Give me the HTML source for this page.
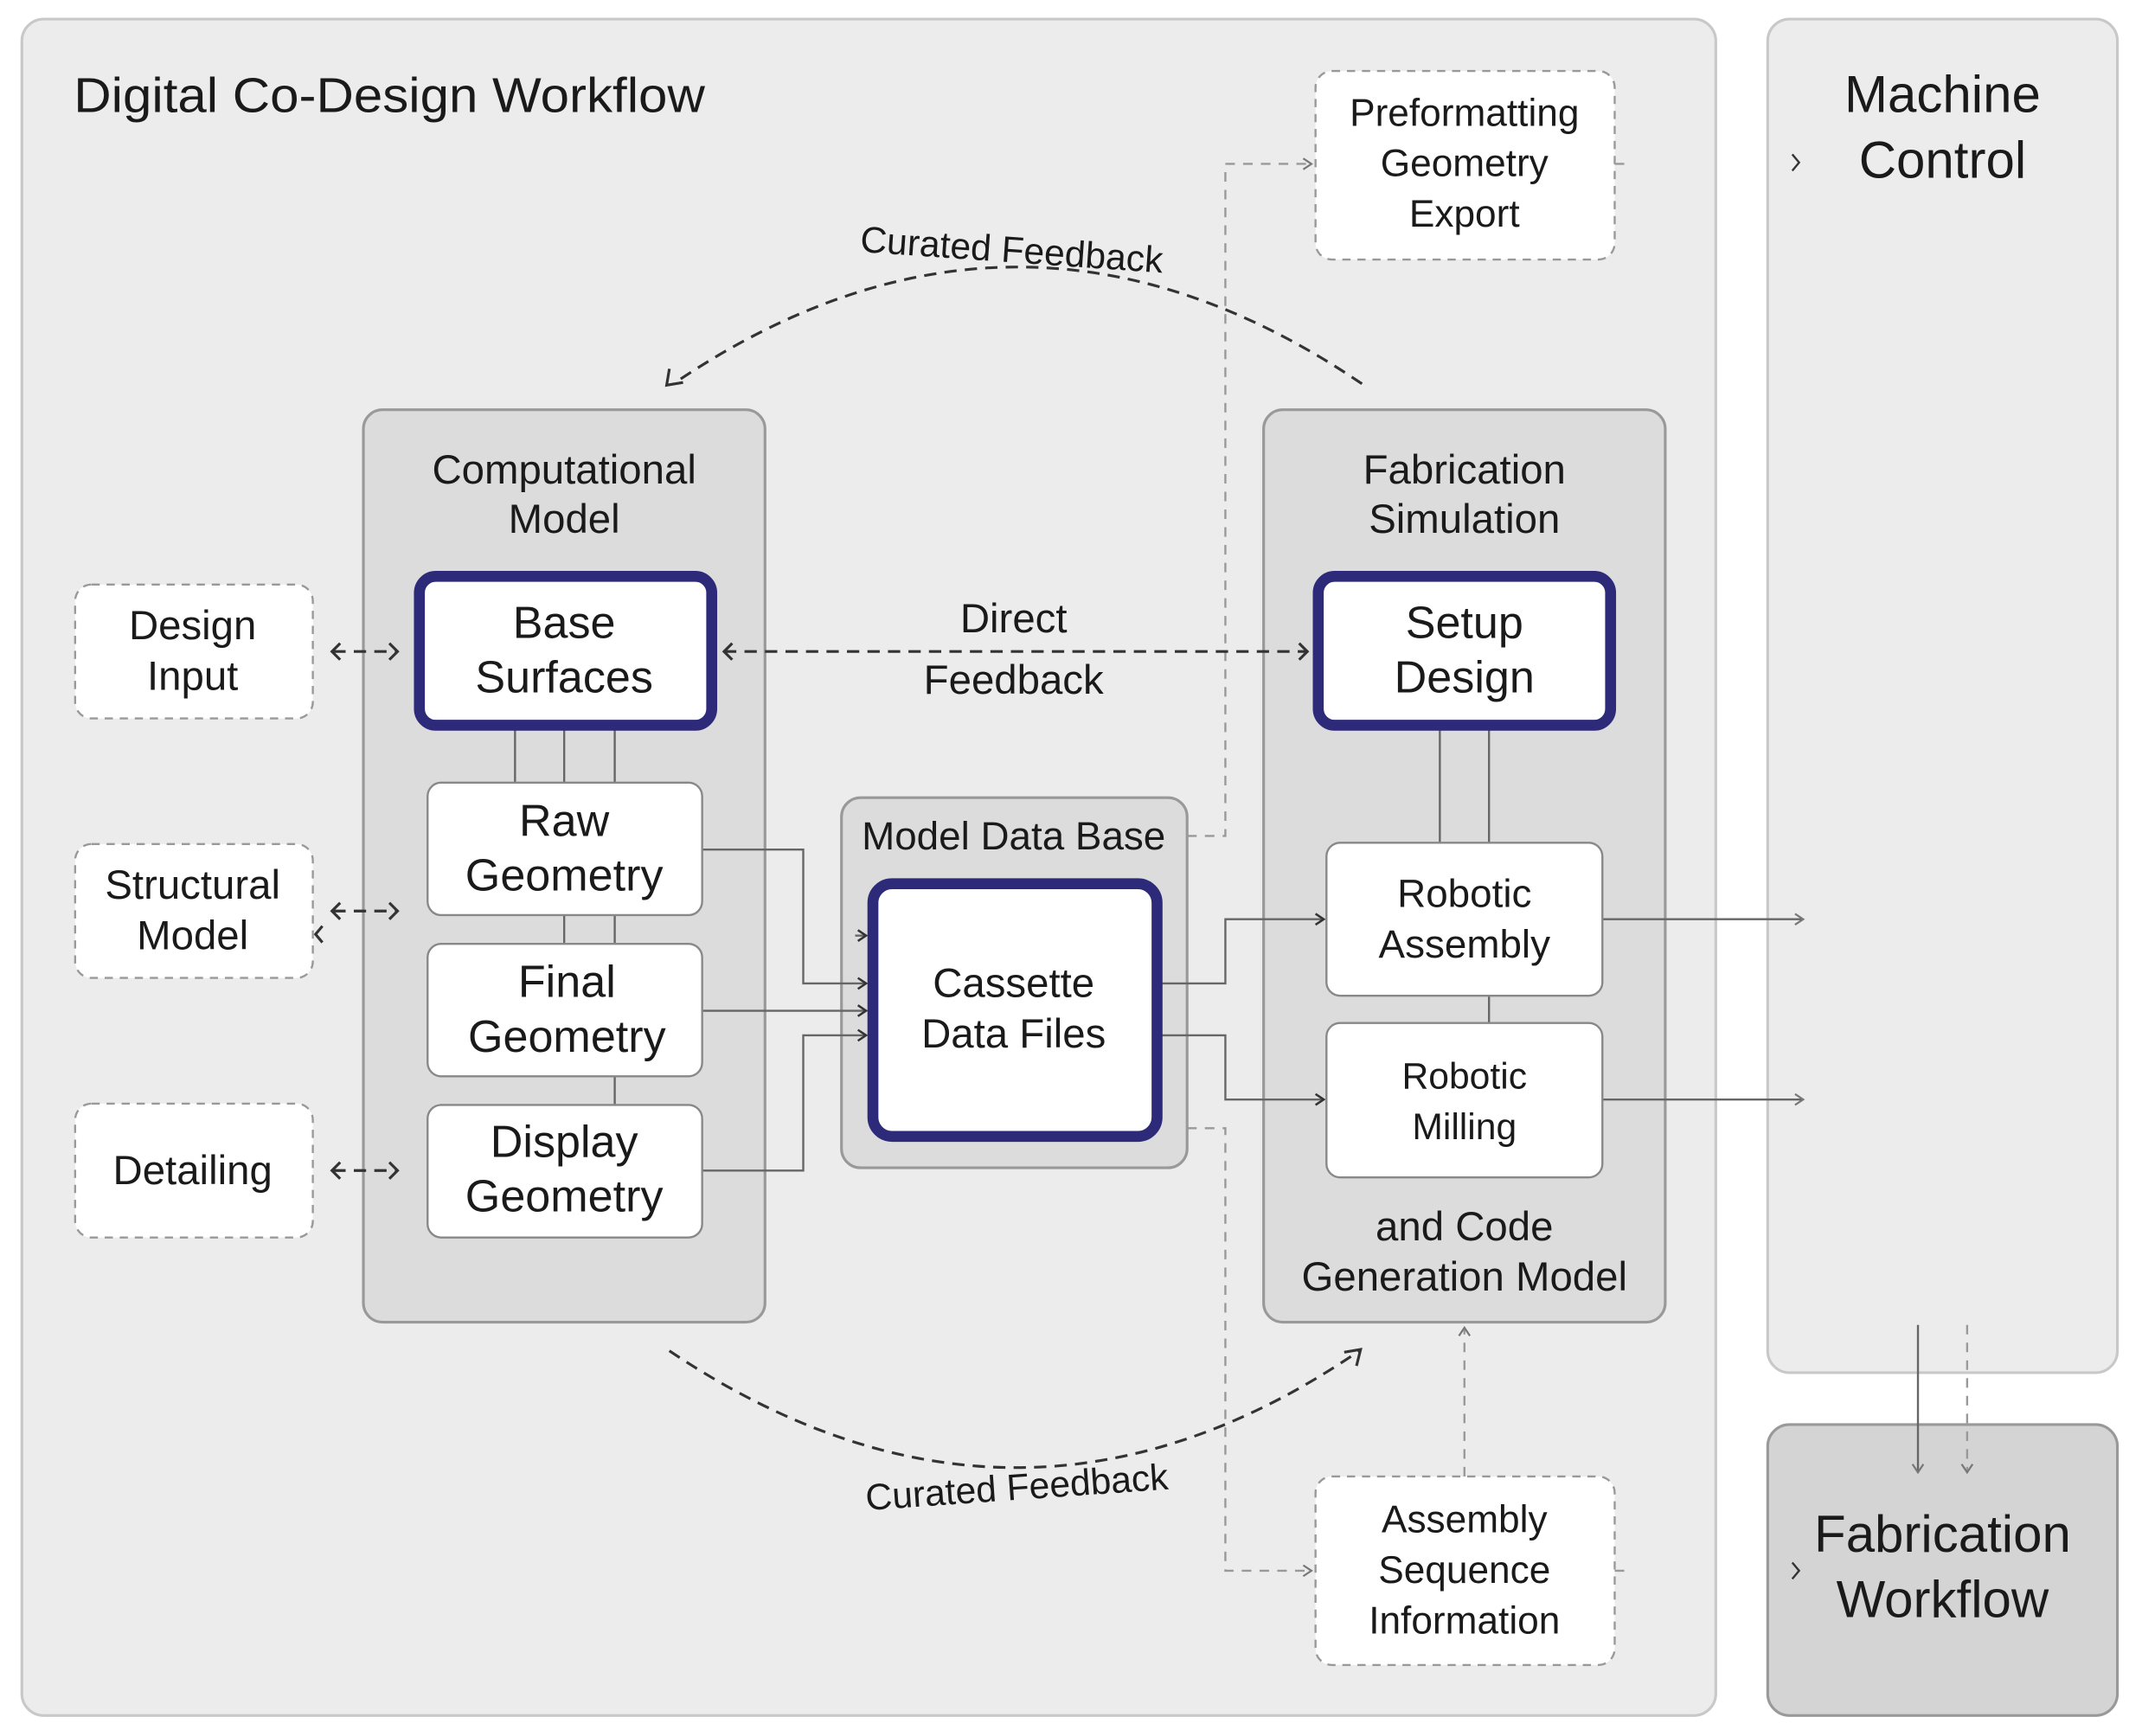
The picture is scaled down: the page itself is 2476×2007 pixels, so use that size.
<!DOCTYPE html>
<html><head><meta charset="utf-8"><style>
html,body{margin:0;padding:0;background:#fff}
svg{display:block}
text{font-family:"Liberation Sans",sans-serif;fill:#1a1a1a;text-anchor:middle}
</style></head><body>
<svg width="2476" height="2007" viewBox="0 0 1568 1271" xmlns="http://www.w3.org/2000/svg">
<defs>
<marker id="a" markerWidth="10" markerHeight="10" refX="8" refY="5" orient="auto" markerUnits="userSpaceOnUse"><path d="M2,1 L8,5 L2,9" fill="none" stroke="#333" stroke-width="1.6"/></marker>
<marker id="g" markerWidth="10" markerHeight="10" refX="8" refY="5" orient="auto" markerUnits="userSpaceOnUse"><path d="M2,1 L8,5 L2,9" fill="none" stroke="#777" stroke-width="1.4"/></marker>
</defs>
<rect width="1568" height="1271" fill="#fff"/>
<rect x="16" y="14" width="1240" height="1242" rx="16" fill="#ececec" stroke="#c8c8c8" stroke-width="2"/>
<rect x="1294" y="14" width="256" height="991" rx="16" fill="#ececec" stroke="#c8c8c8" stroke-width="2"/>
<rect x="1294" y="1043" width="256" height="213" rx="16" fill="#d4d4d4" stroke="#999" stroke-width="2"/>
<text x="54" y="82" font-size="36" textLength="462" lengthAdjust="spacingAndGlyphs" style="text-anchor:start">Digital Co-Design Workflow</text>
<text x="1422" y="82" font-size="38">Machine</text>
<text x="1422" y="130" font-size="38">Control</text>
<text x="1422" y="1136" font-size="38">Fabrication</text>
<text x="1422" y="1184" font-size="38">Workflow</text>
<path d="M1312,113 l5,6 l-5,6 M1312,1144 l5,6 l-5,6" fill="none" stroke="#333" stroke-width="1.5"/>

<rect x="266" y="300" width="294" height="668" rx="14" fill="#dcdcdc" stroke="#999" stroke-width="2"/>
<rect x="925" y="300" width="294" height="668" rx="14" fill="#dcdcdc" stroke="#999" stroke-width="2"/>
<rect x="616" y="584" width="253" height="271" rx="14" fill="#dcdcdc" stroke="#999" stroke-width="2"/>
<text x="413" y="354" font-size="30">Computational</text>
<text x="413" y="390" font-size="30">Model</text>
<text x="1072" y="354" font-size="30">Fabrication</text>
<text x="1072" y="390" font-size="30">Simulation</text>
<text x="742" y="622" font-size="29">Model Data Base</text>
<text x="1072" y="908" font-size="30">and Code</text>
<text x="1072" y="945" font-size="30">Generation Model</text>

<g fill="#fff" stroke="#999" stroke-width="1.5" stroke-dasharray="6,5">
<rect x="55" y="428" width="174" height="98" rx="12"/>
<rect x="55" y="618" width="174" height="98" rx="12"/>
<rect x="55" y="808" width="174" height="98" rx="12"/>
<rect x="963" y="52" width="219" height="138" rx="12"/>
<rect x="963" y="1081" width="219" height="138" rx="12"/>
</g>
<text x="141" y="468" font-size="30">Design</text><text x="141" y="505" font-size="30">Input</text>
<text x="141" y="658" font-size="30">Structural</text><text x="141" y="695" font-size="30">Model</text>
<text x="141" y="867" font-size="30">Detailing</text>
<text x="1072" y="92" font-size="28">Preformatting</text><text x="1072" y="129" font-size="28">Geometry</text><text x="1072" y="166" font-size="28">Export</text>
<text x="1072" y="1122" font-size="28">Assembly</text><text x="1072" y="1159" font-size="28">Sequence</text><text x="1072" y="1196" font-size="28">Information</text>

<g fill="none" stroke="#666" stroke-width="1.5">
<path d="M377,533 V573 M413,533 V573 M450,533 V573"/>
<path d="M413,670 V691 M450,670 V691 M450,788 V809"/>
<path d="M1054,533 V617 M1090,533 V617 M1090,729 V749"/>
<path d="M514,622 H588 V720 H634" marker-end="url(#a)"/>
<path d="M514,740 H634" marker-end="url(#a)"/>
<path d="M514,857 H588 V758 H634" marker-end="url(#a)"/>
<path d="M626,685 H634" marker-end="url(#a)"/>
<path d="M849,720 H897 V673 H969" marker-end="url(#a)"/>
<path d="M849,758 H897 V805 H969" marker-end="url(#a)"/>
<path d="M1173,673 H1320" marker-end="url(#g)"/>
<path d="M1173,805 H1320" marker-end="url(#g)"/>
<path d="M1404,970 V1078" marker-end="url(#g)"/>
</g>
<g fill="none" stroke="#999" stroke-width="1.5" stroke-dasharray="7,6">
<path d="M869,612 H897 V120 H960" marker-end="url(#g)"/>
<path d="M869,826 H897 V1150 H960" marker-end="url(#g)"/>
<path d="M1182,120 H1190 M1182,1150 H1190"/>
<path d="M1072,1081 V972" marker-end="url(#g)"/>
<path d="M1440,970 V1078" marker-end="url(#g)"/>
</g>

<g fill="#fff">
<rect x="307" y="422" width="214" height="109" rx="12" stroke="#2e2a7a" stroke-width="8"/>
<rect x="965" y="422" width="214" height="109" rx="12" stroke="#2e2a7a" stroke-width="8"/>
<rect x="639" y="647" width="208" height="185" rx="14" stroke="#2e2a7a" stroke-width="8"/>
<g stroke="#888" stroke-width="1.5">
<rect x="313" y="573" width="201" height="97" rx="10"/>
<rect x="313" y="691" width="201" height="97" rx="10"/>
<rect x="313" y="809" width="201" height="97" rx="10"/>
<rect x="971" y="617" width="202" height="112" rx="10"/>
<rect x="971" y="749" width="202" height="113" rx="10"/>
</g></g>
<text x="413" y="467" font-size="33">Base</text><text x="413" y="507" font-size="33">Surfaces</text>
<text x="1072" y="467" font-size="33">Setup</text><text x="1072" y="507" font-size="33">Design</text>
<text x="742" y="730" font-size="30">Cassette</text><text x="742" y="767" font-size="30">Data Files</text>
<text x="413" y="612" font-size="33">Raw</text><text x="413" y="652" font-size="33">Geometry</text>
<text x="415" y="730" font-size="33">Final</text><text x="415" y="770" font-size="33">Geometry</text>
<text x="413" y="847" font-size="33">Display</text><text x="413" y="887" font-size="33">Geometry</text>
<text x="1072" y="664" font-size="29">Robotic</text><text x="1072" y="701" font-size="29">Assembly</text>
<text x="1072" y="797" font-size="27">Robotic</text><text x="1072" y="834" font-size="27">Milling</text>

<g fill="none" stroke="#333" stroke-width="2" stroke-dasharray="9,6">
<path d="M244,477 H290 M244,667 H290 M244,857 H290"/>
<path d="M530,477 H956"/>
<path d="M997,281 Q745,110 493,281"/>
<path d="M490,989 Q745,1160 995,989"/>
</g>
<g fill="none" stroke="#333" stroke-width="2">
<path d="M249,471 l-6,6 l6,6 M285,471 l6,6 l-6,6"/>
<path d="M249,661 l-6,6 l6,6 M285,661 l6,6 l-6,6 M236,678 l-5,6 l5,6"/>
<path d="M249,851 l-6,6 l6,6 M285,851 l6,6 l-6,6"/>
<path d="M536,471 l-6,6 l6,6 M951,471 l6,6 l-6,6"/>
<path d="M490,270 l-2,12 l12,-2"/>
<path d="M984,990 l12,-2 l-3,12"/>
</g>
<text x="742" y="463" font-size="30">Direct</text>
<text x="742" y="508" font-size="30">Feedback</text>
<text x="740" y="192" font-size="27" transform="rotate(4 740 192)">Curated Feedback</text>
<text x="745" y="1098" font-size="27" transform="rotate(-4 745 1098)">Curated Feedback</text>
</svg>
</body></html>
